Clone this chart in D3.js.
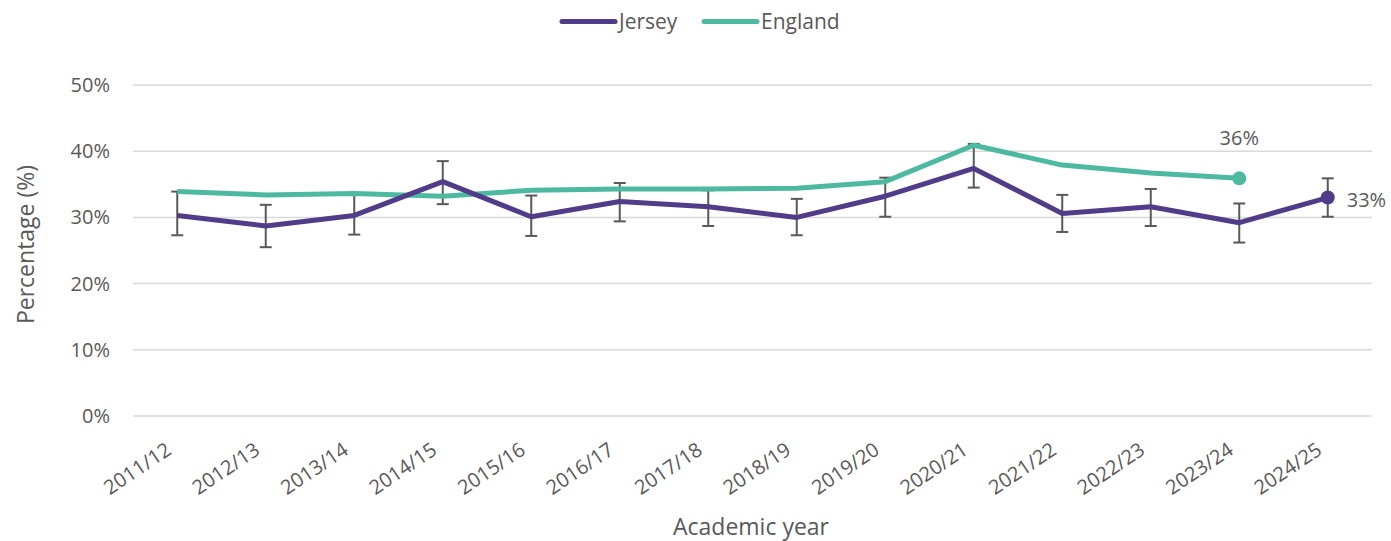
<!DOCTYPE html>
<html>
<head>
<meta charset="utf-8">
<script src="https://cdn.jsdelivr.net/npm/d3@7"></script>
<style>
  html, body { margin: 0; padding: 0; background: #fff; }
  svg { display: block; font-family: "Open Sans", "Noto Sans", sans-serif; }
</style>
</head>
<body>
<svg id="chart" width="1391" height="541"></svg>
<script>
// Academic years on the x axis
const years = ["2011/12","2012/13","2013/14","2014/15","2015/16","2016/17","2017/18",
               "2018/19","2019/20","2020/21","2021/22","2022/23","2023/24","2024/25"];

// Jersey percentage with confidence interval bounds
const jersey      = [30.3, 28.7, 30.3, 35.4, 30.1, 32.4, 31.6, 30.0, 33.2, 37.4, 30.6, 31.6, 29.2, 33.0];
const jerseyLower = [27.3, 25.5, 27.4, 32.0, 27.2, 29.4, 28.7, 27.3, 30.1, 34.5, 27.8, 28.7, 26.2, 30.1];
const jerseyUpper = [33.9, 31.9, 33.6, 38.5, 33.3, 35.2, 34.1, 32.8, 36.0, 41.1, 33.4, 34.3, 32.1, 35.9];

// England percentage (no figure yet for the latest year)
const england = [33.9, 33.4, 33.6, 33.2, 34.1, 34.3, 34.3, 34.4, 35.4, 40.9, 37.9, 36.7, 35.9, null];

const yTicks = [0, 10, 20, 30, 40, 50];

const seriesNames = ["Jersey", "England"];
const colors = { Jersey: "#503C88", England: "#4DB9A0" };
const textColor = "#595959";

const svg = d3.select("#chart");
const plot = { left: 133, right: 1372, top: 85, bottom: 416 };

const x = d3.scalePoint().domain(years).range([plot.left, plot.right]).padding(0.5);
const y = d3.scaleLinear().domain([0, 50]).range([plot.bottom, plot.top]);

// Horizontal gridlines
svg.append("g")
  .selectAll("line")
  .data(yTicks)
  .join("line")
  .attr("x1", plot.left).attr("x2", plot.right)
  .attr("y1", d => y(d)).attr("y2", d => y(d))
  .attr("stroke", "#d9d9d9").attr("stroke-width", 1.5);

// Y axis labels
const yAxis = d3.axisLeft(y).tickValues(yTicks).tickFormat(d => d + "%").tickSize(0).tickPadding(0);
svg.append("g")
  .attr("transform", `translate(110,0)`)
  .call(yAxis)
  .call(g => g.select(".domain").remove())
  .call(g => g.selectAll("text")
    .attr("fill", textColor).attr("font-size", 20)
    .attr("font-family", "'Open Sans', sans-serif"));

// X axis labels, rotated
const xAxis = d3.axisBottom(x).tickSize(0).tickPadding(0);
svg.append("g")
  .attr("transform", `translate(0,430)`)
  .call(xAxis)
  .call(g => g.select(".domain").remove())
  .call(g => g.selectAll("text")
    .attr("fill", textColor).attr("font-size", 20)
    .attr("font-family", "'Open Sans', sans-serif")
    .attr("text-anchor", "end")
    .attr("y", 0).attr("dy", 0)
    .attr("transform", "translate(-5,23) rotate(-34)"));

// Axis titles
svg.append("text")
  .attr("x", 751).attr("y", 535)
  .attr("text-anchor", "middle")
  .attr("fill", textColor).attr("font-size", 23)
  .text("Academic year");

svg.append("text")
  .attr("transform", `translate(34,${(plot.top + plot.bottom) / 2 - 6}) rotate(-90)`)
  .attr("text-anchor", "middle")
  .attr("fill", textColor).attr("font-size", 23)
  .text("Percentage (%)");

// Jersey confidence intervals
const ebars = svg.append("g").attr("stroke", "#595959").attr("stroke-width", 2);
years.forEach((yr, i) => {
  const cx = x(yr);
  ebars.append("line").attr("x1", cx).attr("x2", cx)
    .attr("y1", y(jerseyLower[i])).attr("y2", y(jerseyUpper[i]));
  [jerseyLower[i], jerseyUpper[i]].forEach(v => {
    ebars.append("line").attr("x1", cx - 6).attr("x2", cx + 6)
      .attr("y1", y(v)).attr("y2", y(v));
  });
});

// Series lines
const line = d3.line()
  .defined(d => d.v != null)
  .x(d => x(d.yr))
  .y(d => y(d.v));

const englandData = years.map((yr, i) => ({ yr, v: england[i] }));
const jerseyData = years.map((yr, i) => ({ yr, v: jersey[i] }));

svg.append("path")
  .datum(englandData)
  .attr("fill", "none")
  .attr("stroke", colors.England).attr("stroke-width", 5)
  .attr("stroke-linejoin", "round")
  .attr("d", line);

svg.append("path")
  .datum(jerseyData)
  .attr("fill", "none")
  .attr("stroke", colors.Jersey).attr("stroke-width", 5)
  .attr("stroke-linejoin", "round")
  .attr("d", line);

// Latest-value markers and labels
const lastEng = englandData.filter(d => d.v != null).slice(-1)[0];
const lastJer = jerseyData.slice(-1)[0];

svg.append("circle")
  .attr("cx", x(lastEng.yr)).attr("cy", y(lastEng.v)).attr("r", 7)
  .attr("fill", colors.England);
svg.append("text")
  .attr("x", x(lastEng.yr)).attr("y", y(lastEng.v) - 33)
  .attr("text-anchor", "middle")
  .attr("fill", textColor).attr("font-size", 20)
  .text(Math.round(lastEng.v) + "%");

svg.append("circle")
  .attr("cx", x(lastJer.yr)).attr("cy", y(lastJer.v)).attr("r", 7)
  .attr("fill", colors.Jersey);
svg.append("text")
  .attr("x", x(lastJer.yr) + 19).attr("y", y(lastJer.v) + 2)
  .attr("dy", "0.35em")
  .attr("fill", textColor).attr("font-size", 20)
  .text(Math.round(lastJer.v) + "%");

// Legend
const legendPos = { Jersey: 560, England: 702 };
seriesNames.forEach(name => {
  const lx = legendPos[name];
  svg.append("line")
    .attr("x1", lx + 2).attr("x2", lx + 55)
    .attr("y1", 21.5).attr("y2", 21.5)
    .attr("stroke", colors[name]).attr("stroke-width", 5)
    .attr("stroke-linecap", "round");
  svg.append("text")
    .attr("x", lx + 59).attr("y", 22)
    .attr("dy", "0.35em")
    .attr("fill", textColor).attr("font-size", 21)
    .text(name);
});
</script>
</body>
</html>
